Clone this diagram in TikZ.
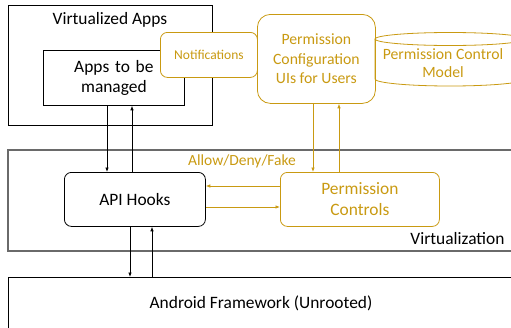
\documentclass[tikz,border=0pt]{standalone}
\usepackage{fontspec}
\setmainfont{Carlito}
\usetikzlibrary{arrows.meta}
\definecolor{gold}{HTML}{C99A12}
\definecolor{vgray}{HTML}{6A6A6A}
\begin{document}
\begin{tikzpicture}[x=1pt,y=-1pt,
  box/.style={draw=black,line width=0.8pt,inner sep=0pt},
  rbox/.style={draw=black,line width=0.8pt,rounded corners=7pt,inner sep=0pt},
  gbox/.style={draw=gold,line width=0.8pt,rounded corners=7pt,inner sep=0pt,text=gold},
  arr/.style={-{Latex[length=4.5pt,width=3.5pt]},line width=0.7pt},
  garr/.style={arr,draw=gold},
  txt/.style={font=\fontsize{17.4}{20.5}\selectfont,align=center}]
\useasboundingbox (0,0) rectangle (511,327);
% frames
\node[box,minimum width=204pt,minimum height=120pt,anchor=north west] (va) at (8,5) {};
\node[txt,anchor=north] (vat) at (110,9) {Virtualized Apps};
\draw[vgray,line width=1.4pt] (520,150) -- (8,150) -- (8,251) -- (520,251);
\coordinate (virt) at (8,150);
\node[txt,anchor=south east] (virtl) at (508,248) {Virtualization};
\draw[black,line width=0.8pt] (520,277) -- (8,277) -- (8,335);
\node[txt] (af) at (261,303) {Android Framework (Unrooted)};
% nodes
\node[box,fill=white,minimum width=141pt,minimum height=55pt,anchor=north west,txt,text width=130pt] (apps) at (43,50) {Apps to be\\managed};
\node[gbox,fill=white,minimum width=97pt,minimum height=45pt,anchor=north west,font=\fontsize{13.5}{15}\selectfont] (notif) at (160,32) {Notifications};
\node[gbox,fill=white,rounded corners=13pt,minimum width=118pt,minimum height=89pt,anchor=north west,font=\fontsize{15.7}{19.5}\selectfont,align=center] (pui) at (257,14) {Permission\\Configuration\\UIs for Users};
% cylinder
\draw[gold,line width=0.8pt] (375,39) -- (375,79) arc[start angle=180,end angle=360,x radius=75,y radius=-7];
\draw[gold,line width=0.8pt] (450,39) ellipse[x radius=75,y radius=6.5];
\node[text=gold,font=\fontsize{15.7}{18}\selectfont,align=center] (pcm) at (443,63) {Permission Control\\Model};
\node[rbox,minimum width=141pt,minimum height=54pt,anchor=north west,txt] (api) at (64,172) {API Hooks};
\node[gbox,minimum width=159pt,minimum height=54pt,anchor=north west,font=\fontsize{17.4}{21}\selectfont,align=center] (pc) at (280,172) {Permission\\Controls};
\node[text=gold,font=\fontsize{15.5}{17}\selectfont] (adf) at (242,161) {Allow/Deny/Fake};
% arrows
\draw[arr] (apps.south -| 107,0) -- (api.north -| 107,0);
\draw[arr] (api.north -| 132,0) -- (apps.south -| 132,0);
\draw[arr] (api.south -| 130,0) -- (130,277);
\draw[arr] (152,277) -- (api.south -| 152,0);
\draw[garr] (pui.south -| 313,0) -- (pc.north -| 313,0);
\draw[garr] (pc.north -| 339,0) -- (pui.south -| 339,0);
\draw[garr] (pc.west |- 0,186) -- (api.east |- 0,186);
\draw[garr] (api.east |- 0,207) -- (pc.west |- 0,207);
\end{tikzpicture}
\end{document}
